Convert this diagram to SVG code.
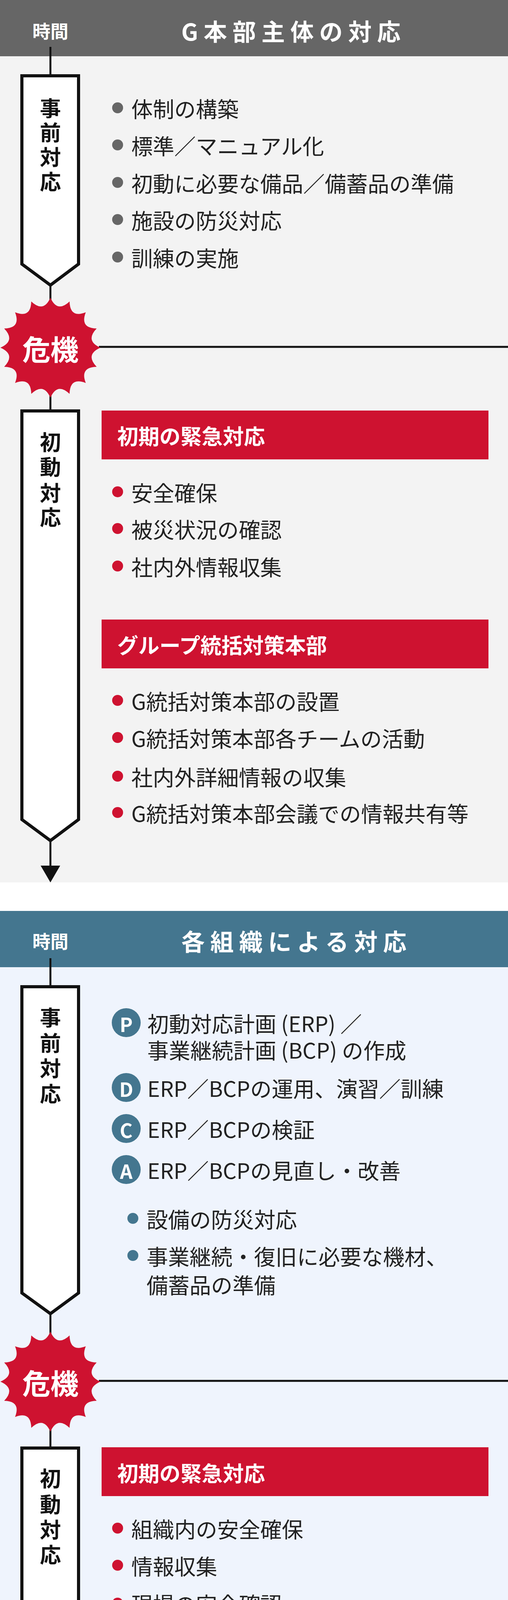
<svg xmlns="http://www.w3.org/2000/svg" xmlns:xlink="http://www.w3.org/1999/xlink" width="1300" height="6057" viewBox="0 0 1300 6057">
<style>
text{font-family:"Noto Sans CJK JP","Noto Sans",sans-serif;dominant-baseline:central}
.hd{fill:#fff;font-weight:bold;font-size:46px;text-anchor:middle}
.ti{fill:#fff;font-weight:bold;font-size:60px;letter-spacing:14px}
.vt{fill:#111;font-weight:bold;font-size:54px;text-anchor:middle}
.tx{fill:#222;font-size:55px}
.bt{fill:#fff;font-weight:bold;font-size:54px}
.bl{fill:#44768f;font-weight:bold;font-size:54px}
.box{fill:#fff;stroke:#111;stroke-width:8;stroke-linejoin:miter}
.ln{stroke:#111;stroke-width:5;fill:none}
.cr{fill:#fff;font-weight:bold;font-size:72px;text-anchor:middle}
.lt{fill:#fff;font-weight:bold;font-size:50px;text-anchor:middle}
</style>
<defs>
<path id="burst" fill="#ce1230" d="M128,0 Q88.3,17.6 118.3,49 Q74.8,50 90.5,90.5 Q50,74.8 49,118.3 Q17.6,88.3 0,128 Q-17.6,88.3 -49,118.3 Q-50,74.8 -90.5,90.5 Q-74.8,50 -118.3,49 Q-88.3,17.6 -128,0 Q-88.3,-17.6 -118.3,-49 Q-74.8,-50 -90.5,-90.5 Q-50,-74.8 -49,-118.3 Q-17.6,-88.3 0,-128 Q17.6,-88.3 49,-118.3 Q50,-74.8 90.5,-90.5 Q74.8,-50 118.3,-49 Q88.3,-17.6 128,0 Z"/>
</defs>
<rect x="0" y="0" width="1300" height="2259" fill="#f3f3f3"/>
<rect x="0" y="2259" width="1300" height="73" fill="#fff"/>
<rect x="0" y="2332" width="1300" height="3725" fill="#eff4fd"/>
<rect x="0" y="0" width="1300" height="144" fill="#666"/>
<rect x="0" y="2332" width="1300" height="144" fill="#44768f"/>
<text class="hd" x="129" y="77">時間</text>
<text class="ti" x="464" y="77">G本部主体の対応</text>
<text class="hd" x="129" y="2407">時間</text>
<text class="ti" x="464" y="2407">各組織による対応</text>

<g id="connectors">
<line class="ln" x1="129" y1="120" x2="129" y2="194"/>
<line class="ln" x1="129" y1="730" x2="129" y2="800"/>
<line class="ln" x1="253" y1="888" x2="1300" y2="888"/>
<line class="ln" x1="129" y1="1000" x2="129" y2="1052"/>
<line class="ln" x1="129" y1="2152" x2="129" y2="2220"/>
<polygon points="104,2216 154,2216 129,2259" fill="#111"/>
<line class="ln" x1="129" y1="2453" x2="129" y2="2526"/>
<line class="ln" x1="129" y1="3363" x2="129" y2="3420"/>
<line class="ln" x1="253" y1="3535" x2="1300" y2="3535"/>
<line class="ln" x1="129" y1="3650" x2="129" y2="3707"/>
<line class="ln" x1="201" y1="4912" x2="1300" y2="4912"/>
<line class="ln" x1="129" y1="5952" x2="129" y2="6018"/>
<polygon points="104,6015 154,6015 129,6057" fill="#111"/>
</g>

<g id="phase1-pre">
<path class="box" d="M56,194 H201 V676 L129,730 L56,676 Z"/>
<text class="vt" x="129" y="274">事</text><text class="vt" x="129" y="336">前</text><text class="vt" x="129" y="399">対</text><text class="vt" x="129" y="462">応</text>
</g>
<g id="phase1-pre-items" fill="#666">
<circle cx="301" cy="276" r="14"/><text class="tx" x="336" y="276">体制の構築</text>
<circle cx="301" cy="371" r="14"/><text class="tx" x="336" y="371">標準／マニュアル化</text>
<circle cx="301" cy="467" r="14"/><text class="tx" x="336" y="467">初動に必要な備品／備蓄品の準備</text>
<circle cx="301" cy="562" r="14"/><text class="tx" x="336" y="562">施設の防災対応</text>
<circle cx="301" cy="658" r="14"/><text class="tx" x="336" y="658">訓練の実施</text>
</g>
<g id="crisis1"><use xlink:href="#burst" href="#burst" x="129" y="890"/><text class="cr" x="129" y="890">危機</text></g>
<g id="phase1-init">
<path class="box" d="M56,1052 H201 V2098 L129,2152 L56,2098 Z"/>
<text class="vt" x="129" y="1129">初</text><text class="vt" x="129" y="1192">動</text><text class="vt" x="129" y="1259">対</text><text class="vt" x="129" y="1321">応</text>
</g>
<g id="g-initial">
<rect x="260" y="1051" width="990" height="125" fill="#ce1230"/>
<text class="bt" x="300" y="1114">初期の緊急対応</text>
<g fill="#ce1230">
<circle cx="301" cy="1259" r="14"/><circle cx="301" cy="1353" r="14"/><circle cx="301" cy="1449" r="14"/>
</g>
<text class="tx" x="336" y="1259">安全確保</text>
<text class="tx" x="336" y="1353">被災状況の確認</text>
<text class="tx" x="336" y="1449">社内外情報収集</text>
</g>
<g id="g-hq">
<rect x="260" y="1586" width="990" height="125" fill="#ce1230"/>
<text class="bt" x="300" y="1649">グループ統括対策本部</text>
<g fill="#ce1230">
<circle cx="301" cy="1793" r="14"/><circle cx="301" cy="1888" r="14"/><circle cx="301" cy="1987" r="14"/><circle cx="301" cy="2080" r="14"/>
</g>
<text class="tx" x="336" y="1793">G統括対策本部の設置</text>
<text class="tx" x="336" y="1888">G統括対策本部各チームの活動</text>
<text class="tx" x="336" y="1987">社内外詳細情報の収集</text>
<text class="tx" x="336" y="2080">G統括対策本部会議での情報共有等</text>
</g>

<g id="phase2-pre">
<path class="box" d="M56,2526 H201 V3310 L129,3363 L56,3310 Z"/>
<text class="vt" x="129" y="2602">事</text><text class="vt" x="129" y="2667">前</text><text class="vt" x="129" y="2732">対</text><text class="vt" x="129" y="2797">応</text>
</g>
<g id="pdca">
<g fill="#44768f"><circle cx="323" cy="2618" r="37"/><circle cx="323" cy="2784" r="37"/><circle cx="323" cy="2889" r="37"/><circle cx="323" cy="2994" r="37"/></g>
<text class="lt" x="323" y="2620">P</text><text class="lt" x="323" y="2786">D</text><text class="lt" x="323" y="2891">C</text><text class="lt" x="323" y="2996">A</text>
<text class="tx" x="377" y="2618">初動対応計画 (ERP) ／</text>
<text class="tx" x="377" y="2686">事業継続計画 (BCP) の作成</text>
<text class="tx" x="377" y="2784">ERP／BCPの運用、演習／訓練</text>
<text class="tx" x="377" y="2889">ERP／BCPの検証</text>
<text class="tx" x="377" y="2994">ERP／BCPの見直し・改善</text>
<g fill="#44768f"><circle cx="340" cy="3119" r="14"/><circle cx="340" cy="3214" r="14"/></g>
<text class="tx" x="375" y="3119">設備の防災対応</text>
<text class="tx" x="375" y="3214">事業継続・復旧に必要な機材、</text>
<text class="tx" x="375" y="3287">備蓄品の準備</text>
</g>
<g id="crisis2"><use xlink:href="#burst" href="#burst" x="129" y="3537"/><text class="cr" x="129" y="3537">危機</text></g>
<g id="phase2-init">
<path class="box" d="M56,3707 H201 V5899 L129,5952 L56,5899 Z"/>
<path class="ln" d="M60,4912 L129,4967 L197,4912" stroke-width="7"/>
<text class="vt" x="129" y="3782">初</text><text class="vt" x="129" y="3848">動</text><text class="vt" x="129" y="3913">対</text><text class="vt" x="129" y="3977">応</text>
</g>
<g id="org-initial">
<rect x="260" y="3705" width="990" height="125" fill="#ce1230"/>
<text class="bt" x="300" y="3769">初期の緊急対応</text>
<g fill="#ce1230"><circle cx="301" cy="3912" r="14"/><circle cx="301" cy="4007" r="14"/><circle cx="301" cy="4104" r="14"/><circle cx="301" cy="4199" r="14"/></g>
<text class="tx" x="336" y="3912">組織内の安全確保</text>
<text class="tx" x="336" y="4007">情報収集</text>
<text class="tx" x="336" y="4104">現場の安全確認</text>
<text class="tx" x="336" y="4199">対応方法の検討</text>
</g>
<g id="org-hq">
<rect x="260" y="4344" width="990" height="125" fill="#ce1230"/>
<text class="bt" x="300" y="4406">各組織の対策本部</text>
<text class="tx" x="286" y="4551">必要に応じ</text>
<text class="tx" x="286" y="4648">BU／グループ会社／地域／現地等の</text>
<text class="tx" x="286" y="4744">対策本部設置と活動</text>
</g>
<g id="phase2-bcp">
<text class="vt" x="129" y="5079">事</text><text class="vt" x="129" y="5143">業</text><text class="vt" x="129" y="5207">継</text><text class="vt" x="129" y="5273">続</text><text class="vt" x="129" y="5337">・</text><text class="vt" x="129" y="5401">復</text><text class="vt" x="129" y="5466">旧</text>
</g>
<g id="bcp">
<rect x="260" y="5050" width="990" height="124" rx="62" fill="#44768f"/>
<text class="bt" x="313" y="5113">BCP発動</text>
<text class="bl" x="286" y="5257">事業継続計画 (BCP) の実施</text>
<circle cx="301" cy="5353" r="14" fill="#44768f"/>
<text class="tx" x="336" y="5353">重要事業の事業継続対応</text>
</g>
<g id="infra">
<rect x="260" y="5490" width="990" height="124" rx="62" fill="#44768f"/>
<text class="bt" x="313" y="5552">インフラ復旧</text>
<text class="bl" x="286" y="5697">事業復旧</text>
<g fill="#44768f"><circle cx="301" cy="5793" r="14"/><circle cx="301" cy="5889" r="14"/></g>
<text class="tx" x="336" y="5793">安全、必要なインフラ等の確認</text>
<text class="tx" x="336" y="5889">業務再開にむけた復旧作業</text>
</g>
</svg>
